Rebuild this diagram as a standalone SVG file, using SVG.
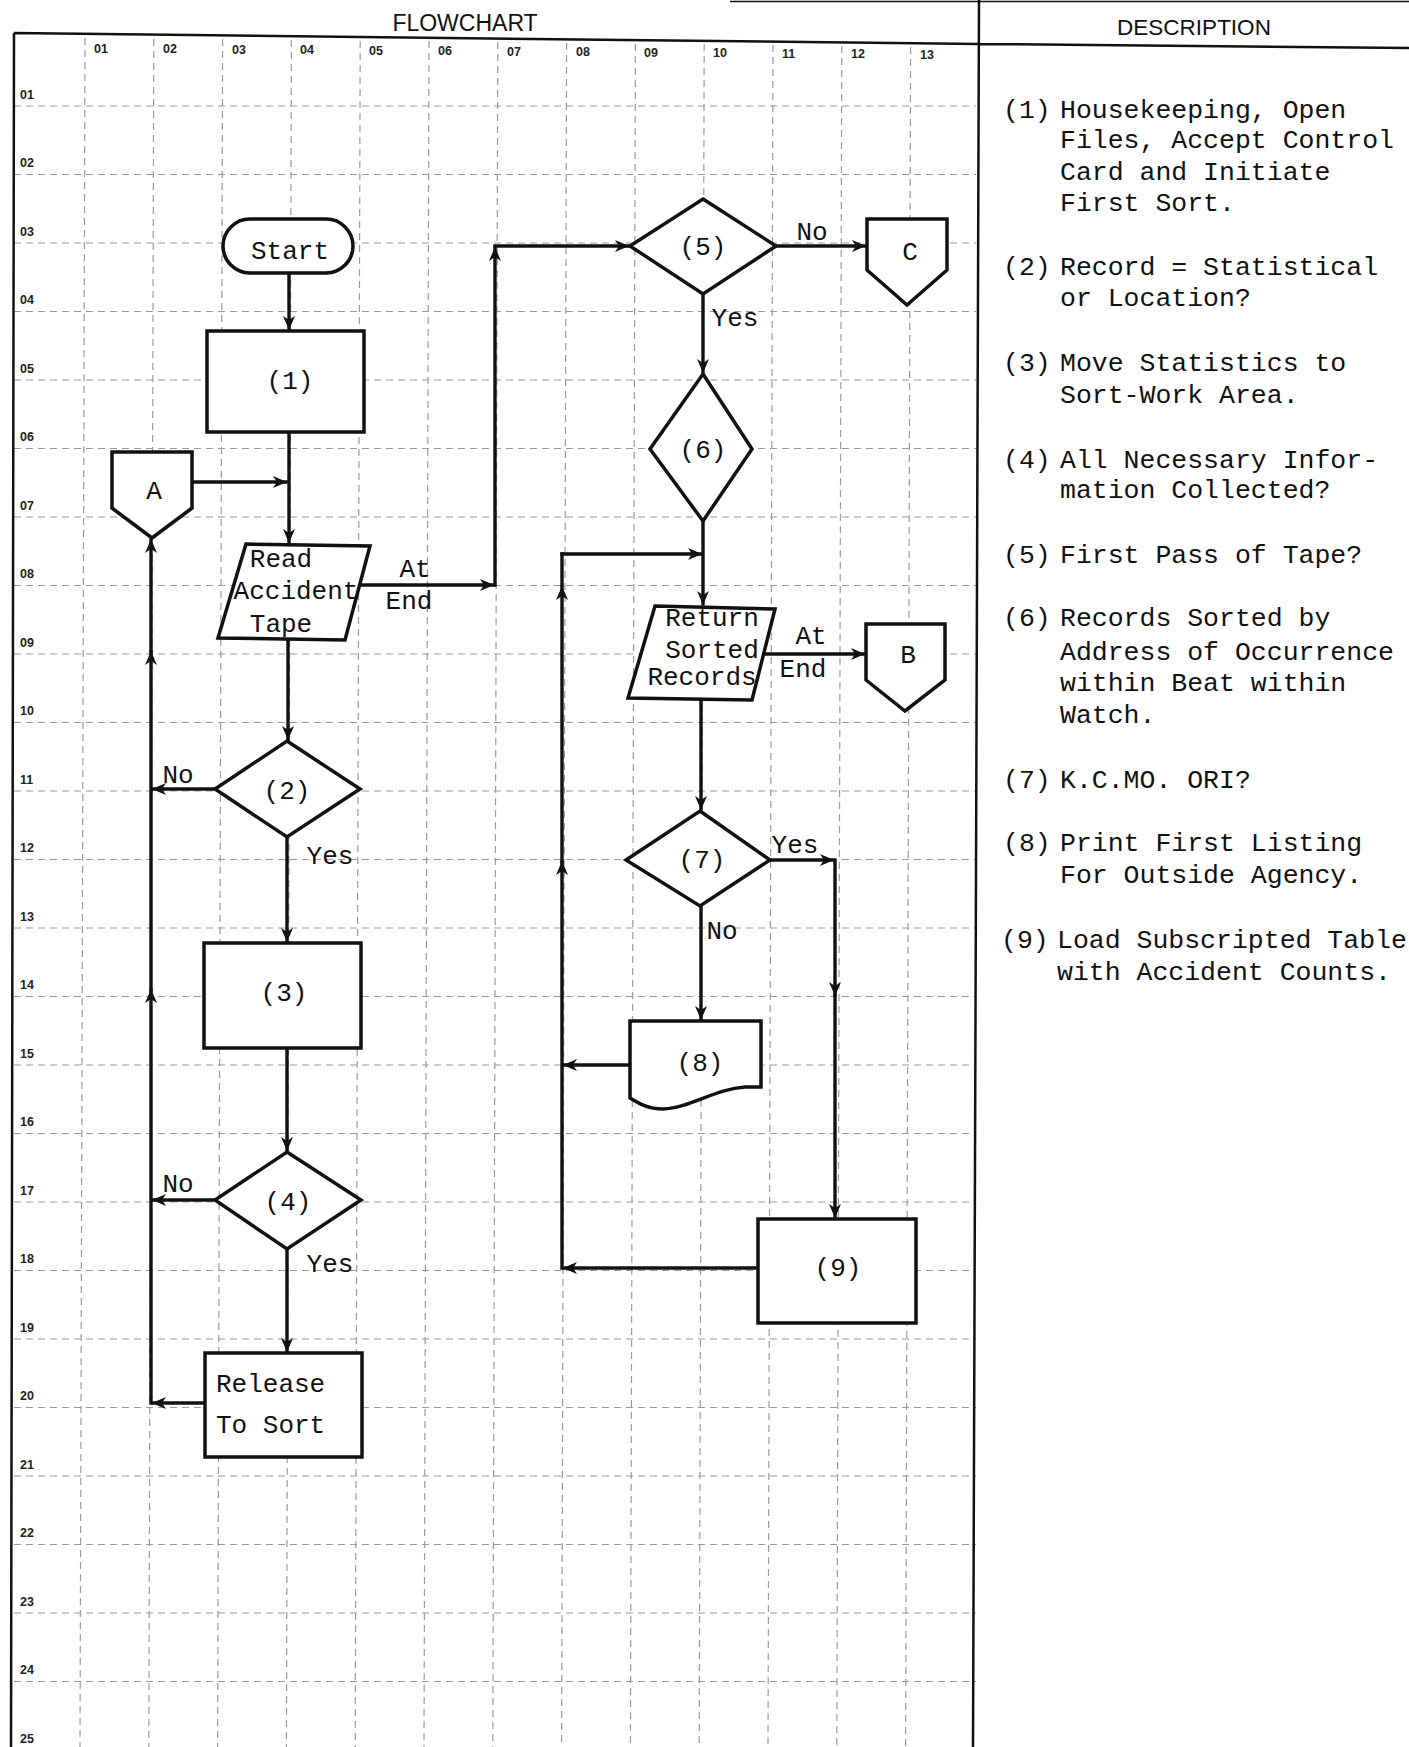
<svg xmlns="http://www.w3.org/2000/svg" width="1409" height="1747" viewBox="0 0 1409 1747">
<defs>
<marker id="ah" viewBox="0 0 14 12" refX="13" refY="6" markerWidth="14" markerHeight="12" markerUnits="userSpaceOnUse" orient="auto"><path d="M0,0 L14,6 L0,12 L4,6 z" fill="#111"/></marker>
<style>
.g{stroke:#9a9a9a;stroke-width:1.2;stroke-dasharray:7 5;fill:none}
.frame{stroke:#111;stroke-width:2.5;fill:none}
.nd{stroke:#111;stroke-width:3.5;fill:#fff}
.cn path{stroke:#111;stroke-width:3.4;fill:none;stroke-linecap:square;marker-end:url(#ah)}
.cn path.nm{marker-end:none}
.t{font-family:"Liberation Mono","Courier New",monospace;font-size:26px;fill:#111;text-anchor:middle}
.ts{font-family:"Liberation Mono","Courier New",monospace;font-size:26px;fill:#111}
.d{font-family:"Liberation Mono","Courier New",monospace;font-size:26.5px;fill:#111}
.h{font-family:"Liberation Sans",Arial,sans-serif;font-size:23px;fill:#111;text-anchor:middle}
.lb{font-family:"Liberation Sans",Arial,sans-serif;font-size:12.5px;font-weight:bold;fill:#222}
</style>
</defs>
<rect width="1409" height="1747" fill="#fff"/>
<g id="grid">
<path class="g" d="M85,38 L80,1747 M153.8,39 L148.8,1747 M222.6,39 L217.6,1747 M291.4,40 L286.4,1747 M360.2,41 L355.2,1747 M429,41 L424,1747 M497.8,42 L492.8,1747 M566.6,43 L561.6,1747 M635.4,44 L630.4,1747 M704.2,44 L699.2,1747 M773,45 L768,1747 M841.8,46 L836.8,1747 M910.6,47 L905.6,1747"/>
<path class="g" d="M14,106 H976 M14,174.5 H976 M14,243 H976 M14,311.5 H976 M14,380 H976 M14,448.5 H976 M14,517 H976 M14,585.5 H976 M14,654 H976 M14,722.5 H976 M14,791 H976 M14,859.5 H976 M14,928 H976 M14,996.5 H976 M14,1065 H976 M14,1133.5 H976 M14,1202 H976 M14,1270.5 H976 M14,1339 H976 M14,1407.5 H976 M14,1476 H976 M14,1544.5 H976 M14,1613 H976 M14,1681.5 H976"/>
<g class="lb">
<text x="94" y="53">01</text><text x="163" y="53">02</text><text x="232" y="54">03</text><text x="300" y="54">04</text><text x="369" y="55">05</text><text x="438" y="55">06</text><text x="507" y="56">07</text><text x="576" y="56">08</text><text x="644" y="57">09</text><text x="713" y="57">10</text><text x="782" y="58">11</text><text x="851" y="58">12</text><text x="920" y="59">13</text>
<text x="20" y="98.5">01</text><text x="20" y="167">02</text><text x="20" y="235.5">03</text><text x="20" y="304">04</text><text x="20" y="372.5">05</text><text x="20" y="441">06</text><text x="20" y="509.5">07</text><text x="20" y="578">08</text><text x="20" y="646.5">09</text><text x="20" y="715">10</text><text x="20" y="783.5">11</text><text x="20" y="852">12</text><text x="20" y="920.5">13</text><text x="20" y="989">14</text><text x="20" y="1057.5">15</text><text x="20" y="1126">16</text><text x="20" y="1194.5">17</text><text x="20" y="1263">18</text><text x="20" y="1331.5">19</text><text x="20" y="1400">20</text><text x="20" y="1468.5">21</text><text x="20" y="1537">22</text><text x="20" y="1605.5">23</text><text x="20" y="1674">24</text><text x="20" y="1742.5">25</text>
</g>
</g>
<g id="frame">
<path class="frame" d="M14,33 L979,44 L1409,48 M14,33 L11,1747 M979,0 L973,1747"/>
<path d="M730,1.5 H1409" stroke="#111" stroke-width="1.5" fill="none"/>
<text class="h" x="465" y="31">FLOWCHART</text>
<text class="h" x="1194" y="35" style="font-size:22.5px">DESCRIPTION</text>
</g>
<g class="cn" id="connectors">
<path d="M289,273 V329"/>
<path d="M289,432 V542"/>
<path d="M192,482 H286"/>
<path d="M288,640 V739"/>
<path d="M287,837 V941"/>
<path d="M287,1048 V1150"/>
<path d="M287,1249 V1351"/>
<path d="M215,789 H153"/>
<path d="M215,1200 H153"/>
<path d="M205,1403 H153"/>
<path d="M151,1403 V990"/>
<path d="M151,990 V652"/>
<path d="M151,652 V540"/>
<path d="M360,585 H493"/>
<path d="M495,585 V248"/>
<path d="M495,246 H628"/>
<path d="M776,246 H865"/>
<path d="M703,294 V372"/>
<path d="M703,521 V604"/>
<path d="M562,554 H701"/>
<path d="M562,1268 V862"/>
<path d="M562,862 V587"/>
<path class="nm" d="M562,585 V554"/>
<path d="M763,654 H864"/>
<path d="M701,700 V809"/>
<path d="M770,860 H833"/>
<path d="M835,860 V995"/>
<path d="M835,995 V1217"/>
<path d="M701,906 V1019"/>
<path d="M630,1065 H564"/>
<path d="M758,1268 H564"/>
</g>
<g id="start"><rect class="nd" x="223" y="219" width="130" height="54" rx="27"/><text class="t" x="290" y="259">Start</text></g>
<g id="n1"><rect class="nd" x="207" y="331" width="157" height="101"/><text class="t" x="290" y="389">(1)</text></g>
<g id="connA"><path class="nd" d="M112,452 H192 V508 L152,538 L112,508 Z"/><text class="t" x="154" y="499">A</text></g>
<g id="read"><polygon class="nd" points="246,544 370,546 345,640 218,638"/><text class="t" x="281" y="567">Read</text><text class="t" x="296" y="599">Accident</text><text class="t" x="281" y="632">Tape</text></g>
<g id="n2"><polygon class="nd" points="287,741 360,789 287,837 215,789"/><text class="t" x="287" y="799">(2)</text></g>
<g id="n3"><rect class="nd" x="204" y="943" width="157" height="105"/><text class="t" x="284" y="1001">(3)</text></g>
<g id="n4"><polygon class="nd" points="287,1152 361,1200 287,1249 215,1200"/><text class="t" x="288" y="1210">(4)</text></g>
<g id="release"><rect class="nd" x="205" y="1353" width="157" height="104"/><text class="ts" x="216" y="1392">Release</text><text class="ts" x="216" y="1433">To Sort</text></g>
<g id="n5"><polygon class="nd" points="703,199 776,246 703,294 630,246"/><text class="t" x="703" y="255">(5)</text></g>
<g id="connC"><path class="nd" d="M867,219 H947 V270 L907,305 L867,270 Z"/><text class="t" x="910" y="260">C</text></g>
<g id="n6"><polygon class="nd" points="703,374 752,449 703,521 650,449"/><text class="t" x="703" y="458">(6)</text></g>
<g id="ret"><polygon class="nd" points="655,606 775,609 752,700 628,698"/><text class="t" x="712" y="626">Return</text><text class="t" x="712" y="658">Sorted</text><text class="t" x="702" y="685">Records</text></g>
<g id="connB"><path class="nd" d="M866,624 H945 V680 L905,711 L866,680 Z"/><text class="t" x="908" y="663">B</text></g>
<g id="n7"><polygon class="nd" points="700,811 770,860 700,906 626,860"/><text class="t" x="702" y="868">(7)</text></g>
<g id="n8"><path class="nd" d="M630,1021 H761 V1087 L745,1087 C715,1089 690,1108 663,1109 C648,1109 638,1103 630,1098 Z"/><text class="t" x="700" y="1071">(8)</text></g>
<g id="n9"><rect class="nd" x="758" y="1219" width="158" height="104"/><text class="t" x="838" y="1276">(9)</text></g>
<g id="edge-labels">
<text class="t" x="415" y="577">At</text><text class="t" x="409" y="609">End</text>
<text class="t" x="178" y="783">No</text><text class="t" x="330" y="864">Yes</text>
<text class="t" x="178" y="1192">No</text><text class="t" x="330" y="1272">Yes</text>
<text class="t" x="812" y="240">No</text><text class="t" x="735" y="326">Yes</text>
<text class="t" x="811" y="644">At</text><text class="t" x="803" y="677">End</text>
<text class="t" x="795" y="853">Yes</text><text class="t" x="722" y="939">No</text>
</g>
<g id="description">
<text class="d" x="1003" y="118">(1)</text><text class="d" x="1060" y="118">Housekeeping, Open</text>
<text class="d" x="1060" y="148">Files, Accept Control</text>
<text class="d" x="1060" y="180">Card and Initiate</text>
<text class="d" x="1060" y="211">First Sort.</text>
<text class="d" x="1003" y="275">(2)</text><text class="d" x="1060" y="275">Record = Statistical</text>
<text class="d" x="1060" y="306">or Location?</text>
<text class="d" x="1003" y="371">(3)</text><text class="d" x="1060" y="371">Move Statistics to</text>
<text class="d" x="1060" y="403">Sort-Work Area.</text>
<text class="d" x="1003" y="468">(4)</text><text class="d" x="1060" y="468">All Necessary Infor-</text>
<text class="d" x="1060" y="498">mation Collected?</text>
<text class="d" x="1003" y="563">(5)</text><text class="d" x="1060" y="563">First Pass of Tape?</text>
<text class="d" x="1003" y="626">(6)</text><text class="d" x="1060" y="626">Records Sorted by</text>
<text class="d" x="1060" y="660">Address of Occurrence</text>
<text class="d" x="1060" y="691">within Beat within</text>
<text class="d" x="1060" y="723">Watch.</text>
<text class="d" x="1003" y="788">(7)</text><text class="d" x="1060" y="788">K.C.MO. ORI?</text>
<text class="d" x="1003" y="851">(8)</text><text class="d" x="1060" y="851">Print First Listing</text>
<text class="d" x="1060" y="883">For Outside Agency.</text>
<text class="d" x="1001" y="948">(9)</text><text class="d" x="1057" y="948">Load Subscripted Table</text>
<text class="d" x="1057" y="980">with Accident Counts.</text>
</g>
</svg>
